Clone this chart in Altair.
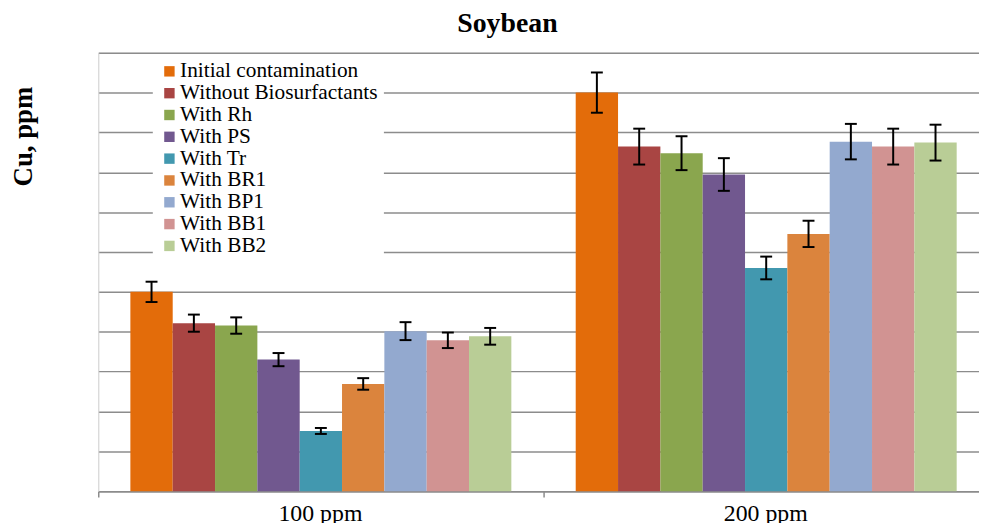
import altair as alt
import pandas as pd

groups = ["100 ppm", "200 ppm"]
series = ["Initial contamination", "Without Biosurfactants", "With Rh", "With PS",
          "With Tr", "With BR1", "With BP1", "With BB1", "With BB2"]
colors = ["#E36C0A", "#A94543", "#8AA64E", "#71588F", "#4298AF",
          "#DB843D", "#93A9CF", "#D19392", "#B9CD96"]

values_100 = [100.0, 84.3, 83.1, 66.0, 30.2, 53.8, 80.3, 75.7, 77.7]
errors_100 = [5.1, 4.3, 4.1, 3.3, 1.5, 2.9, 4.5, 3.9, 4.2]
values_200 = [200.0, 172.9, 169.6, 158.9, 112.0, 129.1, 175.4, 172.9, 174.9]
errors_200 = [10.1, 9.0, 8.5, 8.2, 5.7, 6.6, 8.9, 9.0, 9.0]

y_ticks = [0, 20, 40, 60, 80, 100, 120, 140, 160, 180, 200, 220]

rows = []
for g, vals, errs in [(groups[0], values_100, errors_100), (groups[1], values_200, errors_200)]:
    for s, v, e in zip(series, vals, errs):
        rows.append({"group": g, "series": s, "value": v, "low": v - e, "high": v + e})
df = pd.DataFrame(rows)

FONT = "Liberation Serif"
GRID = "#8c8c8c"

x_enc = alt.X(
    "group:N", sort=groups,
    scale=alt.Scale(paddingInner=0.0223, paddingOuter=0),
    axis=alt.Axis(title=None, labelAngle=0, labelFont=FONT, labelFontSize=24,
                  labelColor="black", labelPadding=5, bandPosition=0,
                  labelOffset=4.5, tickSize=6, tickColor=GRID, tickWidth=1.5,
                  domainColor=GRID, domainWidth=1.5),
)
xo_enc = alt.XOffset("series:N", sort=series,
                     scale=alt.Scale(paddingInner=0, paddingOuter=0.643, align=0.59))
y_scale = alt.Scale(domain=[0, 220], nice=False)

bars = alt.Chart(df).mark_bar(strokeWidth=0).encode(
    x=x_enc,
    xOffset=xo_enc,
    y=alt.Y("value:Q", scale=y_scale,
            axis=alt.Axis(values=y_ticks, labels=False, ticks=False, grid=True,
                          gridColor=GRID, gridWidth=1.5,
                          domainColor="#d9d9d9", domainWidth=1,
                          title="Cu, ppm", titleFont=FONT, titleFontSize=27,
                          titleFontWeight="bold", titleColor="black",
                          titleAngle=270, titleX=-67, titleY=84,
                          titleBaseline="alphabetic", titleAlign="center")),
    color=alt.Color("series:N", sort=series,
                    scale=alt.Scale(domain=series, range=colors),
                    legend=alt.Legend(orient="none", legendX=55, legendY=2,
                                      direction="vertical", title=None,
                                      symbolType="square", symbolSize=110,
                                      symbolStrokeWidth=0, symbolOpacity=1,
                                      labelFont=FONT, labelFontSize=21.5,
                                      labelColor="black", labelOffset=0,
                                      rowPadding=-1.6, padding=6,
                                      fillColor="white", labelLimit=400)),
)

rules = alt.Chart(df).mark_rule(color="black", strokeWidth=2).encode(
    x=x_enc, xOffset=xo_enc,
    y=alt.Y("low:Q", scale=y_scale), y2="high:Q",
)
cap_low = alt.Chart(df).mark_tick(color="black", thickness=2, size=12, opacity=1).encode(
    x=x_enc, xOffset=xo_enc, y=alt.Y("low:Q", scale=y_scale),
)
cap_high = alt.Chart(df).mark_tick(color="black", thickness=2, size=12, opacity=1).encode(
    x=x_enc, xOffset=xo_enc, y=alt.Y("high:Q", scale=y_scale),
)

chart = alt.layer(bars, rules, cap_low, cap_high).properties(
    width=888, height=442,
    title=alt.Title("Soybean", font=FONT, fontSize=28, fontWeight="bold",
                    color="black", anchor="start", frame="group", dx=362, dy=26,
                    baseline="alphabetic", offset=19),
    padding={"left": 91, "top": 43, "right": 0, "bottom": 30},
    autosize=alt.AutoSizeParams(type="none"),
).configure_view(strokeWidth=0).configure(background="white")

chart.save("out.html", embed_options={"renderer": "svg", "actions": False})
